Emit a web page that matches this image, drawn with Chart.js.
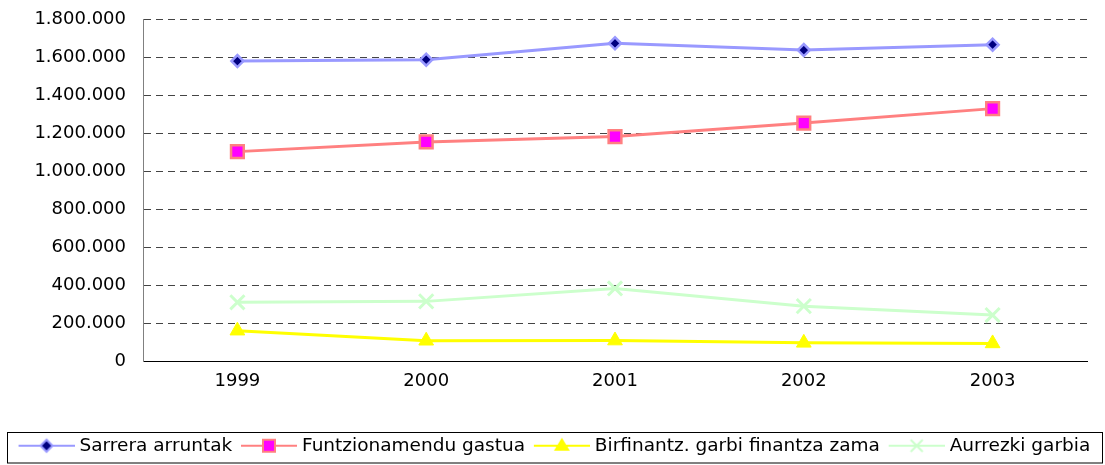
<!DOCTYPE html>
<html>
<head>
<meta charset="utf-8">
<script src="https://cdn.jsdelivr.net/npm/chart.js@4/dist/chart.umd.min.js"></script>
<style>
  html, body { margin: 0; padding: 0; background: #fff; }
  #wrap { width: 1105px; height: 465px; }
</style>
</head>
<body>
<div id="wrap"><canvas id="chart"></canvas></div>
<script>
/* Data */
const years = ['1999', '2000', '2001', '2002', '2003'];
const sarrera = [1579000, 1586000, 1672000, 1637000, 1665000];
const funtzionamendu = [1103000, 1154000, 1182000, 1253000, 1329000];
const birfinantz = [162000, 109000, 110000, 98000, 95000];
const aurrezki = [311000, 316000, 384000, 291000, 244000];
const seriesNames = ['Sarrera arruntak', 'Funtzionamendu gastua', 'Birfinantz. garbi finantza zama', 'Aurrezki garbia'];
const yMin = 0;
const yMax = 1800000;
const yStep = 200000;

const FONT = 'DejaVu Sans';
const LEGEND_SIZE = 18.5;
const BOX_W = 55.5;   // room kept for each legend glyph
const ICON_W = 64;    // glyph canvas, the visible 56px sit on its right

// 1800000 -> "1.800.000"
const fmt = n => String(n).replace(/\B(?=(\d{3})+(?!\d))/g, '.');

// legend glyph: short line with the marker in the middle
function makeIcon(lineColor, drawMarker) {
  const c = document.createElement('canvas');
  c.width = ICON_W; c.height = 20;
  const g = c.getContext('2d');
  const x0 = ICON_W - 56;
  g.strokeStyle = lineColor;
  g.lineWidth = 2;
  g.beginPath(); g.moveTo(x0, 10); g.lineTo(ICON_W, 10); g.stroke();
  drawMarker(g, x0 + 28, 10);
  return c;
}

const icons = [
  makeIcon('#9999FF', (g, x, y) => {
    g.beginPath();
    g.moveTo(x - 6, y); g.lineTo(x, y - 6); g.lineTo(x + 6, y); g.lineTo(x, y + 6); g.closePath();
    g.fillStyle = '#000080'; g.fill();
    g.lineWidth = 2; g.strokeStyle = '#9999FF'; g.stroke();
  }),
  makeIcon('#FF8080', (g, x, y) => {
    g.fillStyle = '#FF00FF';
    g.fillRect(x - 6, y - 6, 12, 12);
    g.lineWidth = 2; g.strokeStyle = '#FF8080'; g.strokeRect(x - 6, y - 6, 12, 12);
  }),
  makeIcon('#FFFF00', (g, x, y) => {
    g.beginPath();
    g.moveTo(x, y - 8); g.lineTo(x + 8, y + 5); g.lineTo(x - 8, y + 5); g.closePath();
    g.fillStyle = '#FFFF00'; g.fill();
  }),
  makeIcon('#CCFFCC', (g, x, y) => {
    g.strokeStyle = '#CCFFCC'; g.lineWidth = 2;
    g.beginPath();
    g.moveTo(x - 6, y - 6); g.lineTo(x + 6, y + 6);
    g.moveTo(x + 6, y - 6); g.lineTo(x - 6, y + 6);
    g.stroke();
  })
];

// box around the legend, like the original
const legendBorder = {
  id: 'legendBorder',
  afterDraw(chart) {
    const lg = chart.legend;
    const ctx = chart.ctx;
    ctx.save();
    ctx.strokeStyle = '#000';
    ctx.lineWidth = 1;
    ctx.strokeRect(7.5, Math.round(lg.top) + 0.5, chart.width - 10, lg.height - 3);
    ctx.restore();
  }
};

const noPad = s => { s.paddingTop = 0; s.paddingBottom = 0; };

const ctx = document.getElementById('chart').getContext('2d');
new Chart(ctx, {
  type: 'line',
  data: {
    labels: years,
    datasets: [
      {
        label: seriesNames[0], data: sarrera,
        borderColor: '#9999FF', borderWidth: 3,
        pointStyle: 'rectRot', pointRadius: 6, pointBorderWidth: 2.5,
        pointBackgroundColor: '#000080', pointBorderColor: '#9999FF'
      },
      {
        label: seriesNames[1], data: funtzionamendu,
        borderColor: '#FF8080', borderWidth: 3,
        pointStyle: 'rect', pointRadius: 9, pointBorderWidth: 2.5,
        pointBackgroundColor: '#FF00FF', pointBorderColor: '#FF8080'
      },
      {
        label: seriesNames[2], data: birfinantz,
        borderColor: '#FFFF00', borderWidth: 3,
        pointStyle: 'triangle', pointRadius: 8.5, pointBorderWidth: 1,
        pointBackgroundColor: '#FFFF00', pointBorderColor: '#FFFF00'
      },
      {
        label: seriesNames[3], data: aurrezki,
        borderColor: '#CCFFCC', borderWidth: 3,
        pointStyle: 'crossRot', pointRadius: 10, pointBorderWidth: 3,
        pointBackgroundColor: '#CCFFCC', pointBorderColor: '#CCFFCC'
      }
    ]
  },
  options: {
    responsive: true,
    maintainAspectRatio: false,
    animation: false,
    events: [],
    elements: { line: { tension: 0 } },
    layout: { padding: { left: 0, right: 0, top: 19, bottom: 0 } },
    scales: {
      x: {
        offset: true,
        grid: { display: false, drawTicks: false },
        border: { color: '#000', width: 1 },
        ticks: { color: '#000', padding: 9, font: { family: FONT, size: 18 } },
        afterFit: s => { s.height = 70; }
      },
      y: {
        min: yMin, max: yMax,
        grid: { color: '#444', drawTicks: false },
        border: { color: '#808080', width: 1, dash: [7, 5] },
        ticks: {
          stepSize: yStep, color: '#000', padding: 17,
          font: { family: FONT, size: 18 },
          callback: v => fmt(v)
        },
        afterFit: s => { s.width = 143; noPad(s); }
      },
      // empty right margin so the legend can still use the full width
      yRight: {
        type: 'linear',
        position: 'right',
        grid: { display: false, drawTicks: false },
        border: { display: false },
        ticks: { display: false },
        afterFit: s => { s.width = 18; noPad(s); }
      }
    },
    plugins: {
      tooltip: { enabled: false },
      legend: {
        position: 'bottom',
        labels: {
          usePointStyle: true,
          pointStyleWidth: BOX_W,
          padding: 5,
          color: '#000',
          font: { family: FONT, size: LEGEND_SIZE },
          generateLabels(chart) {
            const items = Chart.defaults.plugins.legend.labels.generateLabels(chart);
            items.forEach((it, i) => { it.pointStyle = icons[i]; });
            return items;
          }
        }
      }
    }
  },
  plugins: [legendBorder]
});
</script>
</body>
</html>
